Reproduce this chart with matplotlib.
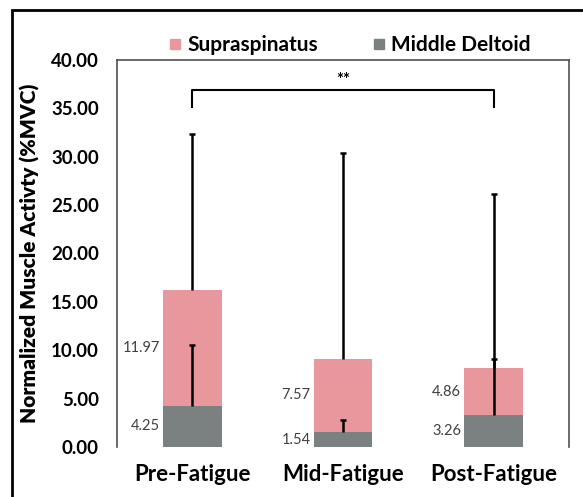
import matplotlib
matplotlib.use("Agg")
import matplotlib.pyplot as plt
from matplotlib.patches import Rectangle
from matplotlib.lines import Line2D

categories = ["Pre-Fatigue", "Mid-Fatigue", "Post-Fatigue"]
deltoid = [4.25, 1.54, 3.26]
supra = [11.97, 7.57, 4.86]
deltoid_err = [6.25, 1.26, 5.84]
supra_err = [16.18, 21.29, 18.08]
yticks = [0, 5, 10, 15, 20, 25, 30, 35, 40]

pink = "#E8979C"
gray = "#7B8080"
FONT = ["Lato", "DejaVu Sans"]
plt.rcParams["font.family"] = FONT

fig = plt.figure(figsize=(5.83, 4.97), dpi=100)
ax = fig.add_axes([117/583, 1-447/497, (569-117)/583, (447-60)/497])

x = list(range(len(categories)))
w = 0.39
ax.bar(x, deltoid, width=w, color=gray, zorder=2)
ax.bar(x, supra, width=w, bottom=deltoid, color=pink, zorder=2)
totals = [d + s for d, s in zip(deltoid, supra)]

supra_top = [t + e for t, e in zip(totals, supra_err)]
delt_top = [d + e for d, e in zip(deltoid, deltoid_err)]
ax.vlines(x, totals, supra_top, color="black", lw=1.8, zorder=3)
ax.vlines(x, deltoid, delt_top, color="black", lw=1.8, zorder=3)
ax.plot(x, supra_top, linestyle="none", marker="_", markersize=5, mew=1.8,
        color="black", zorder=3)
ax.plot(x, delt_top, linestyle="none", marker="_", markersize=5, mew=1.8,
        color="black", zorder=3)

for xi, d, s in zip(x, deltoid, supra):
    ax.text(xi - w/2 - 0.02, d/2, f"{d:.2f}", ha="right", va="center",
            fontsize=10.5, color="#404040")
    ax.text(xi - w/2 - 0.02, d + s/2, f"{s:.2f}", ha="right", va="center",
            fontsize=10.5, color="#404040")

# significance bracket
ax.plot([0, 0, 2, 2], [35.1, 36.9, 36.9, 35.1], color="black", lw=1.5, zorder=3)
ax.text(1, 37.9, "**", ha="center", va="center", fontsize=12, fontweight="bold")

ax.set_xlim(-0.5, 2.5)
ax.set_ylim(0, 40)
ax.set_yticks(yticks)
ax.set_yticklabels([f"{v:.2f}" for v in yticks], fontsize=13.5, fontweight="bold")
ax.set_xticks(x)
ax.set_xticklabels(categories, fontsize=16, fontweight="bold")
ax.tick_params(axis="both", length=0)
ax.tick_params(axis="y", pad=13)
ax.tick_params(axis="x", pad=12)
for side in ["left", "top", "right"]:
    ax.spines[side].set_color("#505050")
    ax.spines[side].set_linewidth(1.2)
ax.spines["bottom"].set_visible(False)

ax.set_ylabel("Normalized Muscle Activty (%MVC)", fontsize=15, fontweight="heavy")
ax.yaxis.label.set_va("center")
ax.yaxis.set_label_coords((30 - 117)/452, 0.5)

handles = [Line2D([], [], marker="s", linestyle="none", markersize=7,
                  markerfacecolor=pink, markeredgecolor=pink, label="Supraspinatus"),
           Line2D([], [], marker="s", linestyle="none", markersize=7,
                  markerfacecolor=gray, markeredgecolor=gray, label="Middle Deltoid")]
fig.legend(handles=handles, loc="center", bbox_to_anchor=(348/583, 1-45/497), ncol=2,
           frameon=False, prop={"size": 15, "weight": "bold"},
           handletextpad=0.1, columnspacing=2.4, handlelength=1.0)

fig.add_artist(Rectangle((12/583, -0.1), 1.2, 1 - 10/497 + 0.1, transform=fig.transFigure,
                         fill=False, edgecolor="black", linewidth=2))

fig.savefig("out.png", dpi=100)
